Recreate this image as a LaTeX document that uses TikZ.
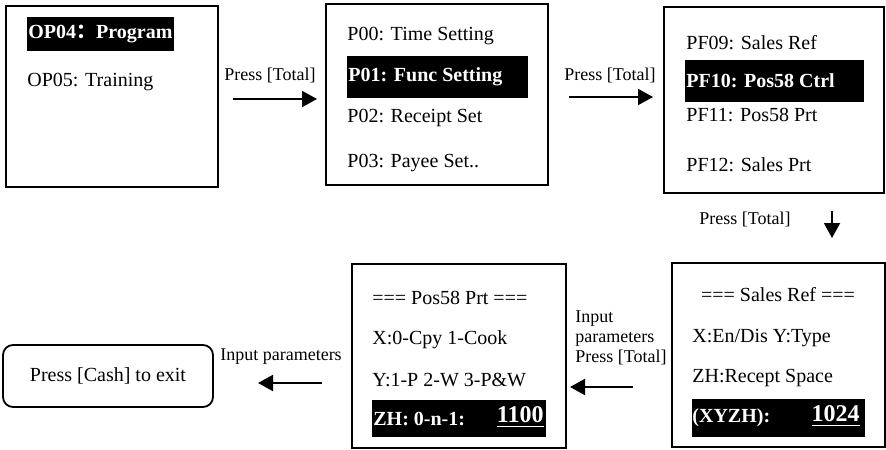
\documentclass[tikz,border=0pt]{standalone}
\usepackage{fontspec}
\setmainfont{Liberation Serif}
\newfontfamily\cjk{Noto Sans CJK SC}
\usetikzlibrary{arrows.meta}

\tikzset{
  screen/.style={draw=black,line width=0.9pt},
  line/.style={anchor=west,inner sep=0pt,font=\fontsize{10}{12}\selectfont},
  hltext/.style={anchor=west,inner sep=0pt,text=white,font=\fontsize{10}{12}\selectfont\bfseries},
  hlnum/.style={anchor=east,inner sep=0pt,text=white,font=\fontsize{12}{14}\selectfont\bfseries},
  lbl/.style={inner sep=0pt,font=\fontsize{9}{10}\selectfont},
  go/.style={line width=1pt,-{Triangle[length=7.5pt,width=8pt]}},
  exitbox/.style={draw=black,line width=0.9pt,rounded corners=5pt,minimum width=105pt,minimum height=31pt,font=\fontsize{10}{12}\selectfont}
}

\begin{document}
\begin{tikzpicture}[x=0.5pt,y=-0.5pt]
  \useasboundingbox (0,0) rectangle (886,449);

  % screen 1
  \draw[screen] (6,6) rectangle (218,187);
  \fill[black] (27,17) rectangle (174,51);
  \node[hltext] (op04) at (28,34) {OP04{\cjk ：}Program};
  \node[line] (op05) at (27,82) {OP05: Training};

  % screen 2
  \draw[screen] (326,4) rectangle (548,185);
  \node[line] (p00) at (347,36) {P00: Time Setting};
  \fill[black] (347,56) rectangle (528,98);
  \node[hltext] (p01) at (348,77) {P01: Func Setting};
  \node[line] (p02) at (347,118) {P02: Receipt Set};
  \node[line] (p03) at (347,163) {P03: Payee Set..};

  % screen 3
  \draw[screen] (664,7) rectangle (884,193);
  \node[line] (pf09) at (686,43) {PF09: Sales Ref};
  \fill[black] (685,60) rectangle (864,102);
  \node[hltext] (pf10) at (686,81) {PF10: Pos58 Ctrl};
  \node[line] (pf11) at (686,115) {PF11: Pos58 Prt};
  \node[line] (pf12) at (686,165) {PF12: Sales Prt};

  % screen 4: sales ref
  \draw[screen] (672,263) rectangle (885,447);
  \node[line,anchor=center] (srtitle) at (778,295) {=== Sales Ref ===};
  \node[line] (srx) at (692,338) {X:En/Dis Y:Type};
  \node[line] (srzh) at (692,378) {ZH:Recept Space};
  \fill[black] (692,399) rectangle (865,437);
  \node[hltext] (srxyzh) at (692,418) {(XYZH):};
  \node[hlnum] (srval) at (860,416) {\underline{1024}};

  % screen 5: pos58 prt
  \draw[screen] (352,264) rectangle (566,448);
  \node[line] (pptitle) at (372,298) {=== Pos58 Prt ===};
  \node[line] (ppx) at (372,340) {X:0-Cpy 1-Cook};
  \node[line] (ppy) at (372,380) {Y:1-P 2-W 3-P\&W};
  \fill[black] (372,400) rectangle (546,437);
  \node[hltext] (ppzh) at (373,419) {ZH: 0-n-1:};
  \node[hlnum] (ppval) at (544,417) {\underline{1100}};

  % exit
  \node[exitbox] (exit) at (108,376) {Press [Cash] to exit};

  % arrows
  \coordinate (a1s) at (233,99);  \coordinate (a1e) at (317,99);
  \coordinate (a2s) at (569,97);  \coordinate (a2e) at (653,97);
  \coordinate (a3s) at (832,211); \coordinate (a3e) at (832,238);
  \coordinate (a4s) at (633,387); \coordinate (a4e) at (570,387);
  \coordinate (a5s) at (322,383); \coordinate (a5e) at (258,383);

  \draw[go] (a1s) -- (a1e);
  \node[lbl] (l1) at (270,75) {Press [Total]};
  \draw[go] (a2s) -- (a2e);
  \node[lbl] (l2) at (610,75) {Press [Total]};
  \draw[go] (a3s) -- (a3e);
  \node[lbl] (l3) at (745,219) {Press [Total]};
  \draw[go] (a4s) -- (a4e);
  \node[lbl,anchor=west,align=left] (l4) at (575,338) {Input\\parameters\\Press [Total]};
  \draw[go] (a5s) -- (a5e);
  \node[lbl] (l5) at (281,357) {Input parameters};
\end{tikzpicture}
\end{document}
